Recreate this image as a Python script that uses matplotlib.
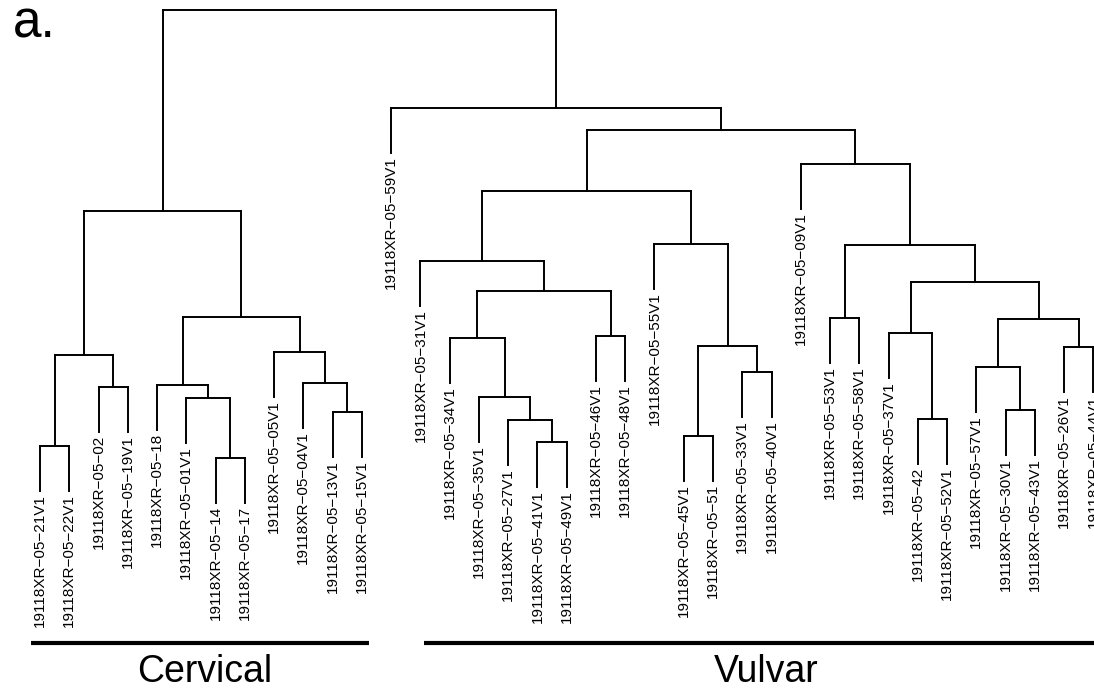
import numpy as np
import matplotlib.pyplot as plt

plt.rcParams['font.family'] = ['Liberation Sans', 'DejaVu Sans']

# leaf labels (hclust labels)
labels = ['19118XR-05-21V1', '19118XR-05-22V1', '19118XR-05-02', '19118XR-05-19V1',
          '19118XR-05-18', '19118XR-05-01V1', '19118XR-05-14', '19118XR-05-17',
          '19118XR-05-05V1', '19118XR-05-04V1', '19118XR-05-13V1', '19118XR-05-15V1',
          '19118XR-05-59V1', '19118XR-05-31V1', '19118XR-05-34V1', '19118XR-05-35V1',
          '19118XR-05-27V1', '19118XR-05-41V1', '19118XR-05-49V1', '19118XR-05-46V1',
          '19118XR-05-48V1', '19118XR-05-55V1', '19118XR-05-45V1', '19118XR-05-51',
          '19118XR-05-33V1', '19118XR-05-40V1', '19118XR-05-09V1', '19118XR-05-53V1',
          '19118XR-05-58V1', '19118XR-05-37V1', '19118XR-05-42', '19118XR-05-52V1',
          '19118XR-05-57V1', '19118XR-05-30V1', '19118XR-05-43V1', '19118XR-05-26V1',
          '19118XR-05-44V1']

# merge matrix like R: negative = leaf number, positive = earlier merge row
merge_a = [-7, -1, -18, -23, -17, -31, -11, -34, -6, -16, -3, -5, -10, -25, -33, 2, -9, -36,
           4, -15, -20, -30, 15, 12, -28, 20, 22, -14, -22, 25, 16, 28, -27, 32, -13, 31]
merge_b = [-8, -2, -19, -24, 3, -32, -12, -35, 1, 5, -4, 9, 7, -26, 8, 11, 13, -37,
           14, 10, -21, 6, 18, 17, -29, 21, 23, 26, 19, 27, 24, 29, 30, 33, 34, 35]
heights = [0.62, 0.74, 0.78, 0.84, 1.00, 1.01, 1.08, 1.10, 1.22, 1.23, 1.33, 1.35, 1.37,
           1.48, 1.53, 1.65, 1.68, 1.73, 1.74, 1.82, 1.84, 1.87, 2.01, 2.03, 2.02, 2.29,
           2.38, 2.59, 2.76, 2.75, 3.09, 3.29, 3.56, 3.90, 4.12, 5.10]

groups = ['Cervical', 'Vulvar']
group_first = ['19118XR-05-21V1', '19118XR-05-59V1']
group_last = ['19118XR-05-15V1', '19118XR-05-44V1']


def walk(node):
    if node < 0:
        return [-node - 1]
    return walk(merge_a[node - 1]) + walk(merge_b[node - 1])


order = walk(len(heights))
xpos = {leaf: i for i, leaf in enumerate(order)}


def node_x(node):
    if node < 0:
        return xpos[-node - 1]
    return (node_x(merge_a[node - 1]) + node_x(merge_b[node - 1])) / 2


hang = 0.1 * (max(heights) - min(heights))

fig = plt.figure(figsize=(10.94, 6.88), dpi=100)
ax = fig.add_axes([0, 0, 1, 1])
ax.set_xlim(-1.367, 36.02)
ax.set_ylim(-1.68, 5.20)
ax.axis('off')

lw = 1.4
for r in range(len(heights)):
    h = heights[r]
    xa, xb = node_x(merge_a[r]), node_x(merge_b[r])
    ax.plot([xa, xb], [h, h], color='black', lw=lw, solid_capstyle='projecting')
    for child, xc in ((merge_a[r], xa), (merge_b[r], xb)):
        if child > 0:
            bottom = heights[child - 1]
        else:
            bottom = h - hang
            ax.text(xc, bottom - 0.03, labels[-child - 1].replace('-', '\u2212'),
                    rotation=90, ha='center', va='top', fontsize=11)
        ax.plot([xc, xc], [bottom, h], color='black', lw=lw, solid_capstyle='projecting')

# group bars under the tree
pads = [(-0.3, 0.25), (1.12, 0.2)]
for name, first, last, (p0, p1) in zip(groups, group_first, group_last, pads):
    x0 = xpos[labels.index(first)] + p0
    x1 = xpos[labels.index(last)] + p1
    ax.plot([x0, x1], [-1.23, -1.23], color='black', lw=3, solid_capstyle='butt')
    ax.text((x0 + x1) / 2 + 0.15, -1.615, name, ha='center', va='baseline', fontsize=27)

fig.text(0.012, 1 - 38 / 688, 'a.', fontsize=37, va='baseline', ha='left')

fig.savefig('out.png', dpi=100, facecolor='white')
